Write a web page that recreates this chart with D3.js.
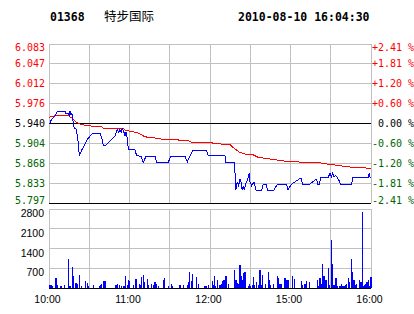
<!DOCTYPE html>
<html lang="zh">
<head>
<meta charset="utf-8">
<script src="https://cdn.jsdelivr.net/npm/d3@7/dist/d3.min.js"></script>
<style>
  body { margin: 0; background: #fff; }
  svg { display: block; }
</style>
</head>
<body>
<script>
// header
const stockCode = "01368";
const stockName = "特步国际";
const stamp = "2010-08-10 16:04:30";

// price axis
const prevClose = 5.94;
const priceSpan = 0.1431;
const priceTickLabels = ["6.083", "6.047", "6.012", "5.976", "5.940", "5.904", "5.868", "5.833", "5.797"];
const pctTickLabels = ["+2.41 %", "+1.81 %", "+1.20 %", "+0.60 %", " 0.00 %", "-0.60 %", "-1.20 %", "-1.81 %", "-2.41 %"];
const volTicks = [2800, 2100, 1400, 700];

// time axis, minutes from the open (10:00-12:30, 14:30-16:00)
const timeLabels = ["10:00", "11:00", "12:00", "15:00", "16:00"];
const timeLabelMinutes = [0, 60, 120, 180, 240];

// [minute, price]
const pricePoints = [[0,5.940],[0.7,5.941],[2,5.948],[4.5,5.953],[6.2,5.962],[11.9,5.962],[12.7,5.958],[14.4,5.958],[15.1,5.954],[15.6,5.962],[16.4,5.955],[17.1,5.958],[17.6,5.951],[18.1,5.939],[18.9,5.931],[20.1,5.930],[21.1,5.918],[21.8,5.906],[22.6,5.882],[23.6,5.888],[24.8,5.894],[26.1,5.900],[27.3,5.906],[28.6,5.912],[30,5.915],[31.8,5.921],[33.5,5.922],[38,5.922],[39.3,5.915],[40.5,5.901],[42.2,5.901],[45.5,5.909],[49.2,5.918],[50.9,5.929],[51.9,5.924],[52.9,5.929],[53.7,5.924],[54.6,5.931],[55.9,5.924],[56.6,5.918],[57.4,5.925],[58.4,5.912],[59.1,5.894],[64.1,5.893],[65.3,5.882],[68.6,5.881],[70.3,5.870],[72.3,5.881],[79,5.881],[80.2,5.870],[88.9,5.870],[90.7,5.881],[101.3,5.881],[103.1,5.871],[103.8,5.876],[107.1,5.891],[117.5,5.891],[118.7,5.882],[131.1,5.882],[131.9,5.870],[137.9,5.870],[138.6,5.852],[139.3,5.820],[140.3,5.835],[141.3,5.828],[142.3,5.840],[143.1,5.835],[144,5.820],[144.8,5.828],[145.5,5.820],[146.6,5.831],[147.8,5.837],[149.3,5.851],[149.8,5.835],[151,5.828],[152.8,5.835],[154.3,5.820],[158.5,5.820],[159.7,5.831],[161.7,5.831],[163,5.820],[167.7,5.820],[170.2,5.831],[177.1,5.831],[178.1,5.821],[180.9,5.831],[183.3,5.835],[185.8,5.839],[187.8,5.842],[189,5.831],[194.5,5.831],[197,5.836],[199.5,5.840],[200.2,5.831],[201.4,5.831],[202.5,5.842],[208.1,5.842],[209.4,5.851],[210.4,5.844],[211.4,5.851],[212.4,5.844],[213.6,5.847],[215.6,5.840],[217.4,5.831],[225.6,5.831],[226.3,5.842],[237.9,5.842],[238.7,5.851],[239.4,5.842]];

// [minute, average price]
const avgPoints = [[0,5.951],[4.5,5.954],[14.4,5.954],[18.1,5.948],[20.6,5.942],[23.1,5.939],[28.1,5.936],[39.3,5.934],[40.5,5.931],[55.4,5.931],[56.6,5.928],[60.4,5.926],[65.4,5.924],[67.8,5.921],[71.5,5.916],[79,5.914],[84,5.912],[92.6,5.911],[103.8,5.909],[106.3,5.906],[121.2,5.906],[122.4,5.904],[134.9,5.902],[138.6,5.894],[142.3,5.888],[146,5.885],[151,5.885],[156,5.879],[164.7,5.876],[179.6,5.871],[200.7,5.870],[204.4,5.868],[216.8,5.864],[226.8,5.861],[240,5.8595]];

// [minute, volume]
const volPoints = [[0.7,118],[1.5,118],[2.2,83],[5.2,354],[6.2,118],[8.9,83],[11.2,118],[14.4,1027],[15.6,83],[17.4,744],[18.1,437],[19.4,153],[20.1,177],[21.1,153],[22.6,472],[24.3,83],[27.1,236],[28.6,177],[29.6,83],[33,118],[37.5,83],[38.5,118],[39.3,153],[40.5,236],[41.5,236],[42.2,236],[49.9,118],[50.9,153],[52.4,118],[54.2,83],[55.9,83],[56.9,437],[58.4,118],[59.1,295],[59.8,236],[62.8,118],[64.8,319],[67.3,153],[68.3,118],[69.1,378],[70.3,472],[71.3,200],[73.3,331],[74,118],[76.5,153],[77.7,118],[79,200],[80.2,153],[81.7,83],[85.2,295],[86.2,366],[88.9,83],[91.4,153],[92.2,83],[97.6,118],[100.1,118],[103.1,118],[103.8,200],[104.5,555],[106.3,236],[107.1,508],[110.1,378],[111.3,153],[116.2,83],[117.5,83],[118.7,118],[121.7,260],[122.4,118],[123.2,413],[124.2,83],[125.7,272],[127.4,118],[128.2,153],[129.1,236],[129.9,272],[131.1,272],[131.9,413],[132.4,118],[133.6,153],[138.1,650],[139.3,272],[140.3,177],[141.1,153],[142.3,827],[143.1,437],[144,272],[145.3,531],[146,579],[148.5,83],[149.3,153],[150.3,83],[151.8,118],[152.3,390],[153,118],[154.3,200],[156,118],[157.2,650],[158.5,118],[159.2,472],[161,153],[163.4,555],[164.2,295],[165.2,118],[167.2,153],[170.2,437],[170.9,354],[172.1,153],[173.4,153],[175.9,354],[176.6,295],[177.6,295],[178.3,295],[181.6,437],[182.8,319],[188.3,236],[189.1,118],[190.8,153],[192,236],[194,200],[200,272],[200.7,83],[201.9,354],[203.2,153],[203.7,862],[204.9,437],[206.4,272],[208.1,709],[208.9,118],[210.6,1712],[211.4,862],[212.4,118],[213.9,354],[215.1,83],[216.8,83],[218.1,153],[218.8,83],[219.8,83],[221.1,118],[221.8,153],[223,354],[223.8,200],[225.6,1027],[226.3,555],[227.3,272],[228.6,118],[229.3,153],[231.3,272],[232.4,200],[233.6,2680],[234.4,83],[235.4,118],[236.2,153],[236.9,200],[238.1,272],[238.9,83],[239.9,390]];

const w = 414, h = 314;
const left = 49, right = 371;
const pTop = 44, pBottom = 203;
const vTop = 209, vBottom = 288;

const x = d3.scaleLinear().domain([0, 240]).range([left, right]);
const yP = d3.scaleLinear().domain([prevClose - priceSpan, prevClose + priceSpan]).range([pBottom, pTop]);
const yV = d3.scaleLinear().domain([0, 2800]).range([vBottom, vTop]);

const svg = d3.select("body").append("svg")
  .attr("width", w)
  .attr("height", h)
  .style("background", "#fff");

const grid = "#c0c0c0";
const mono = "'DejaVu Sans Mono', monospace";
const sans = "'Liberation Sans', Arial, sans-serif";

// header
svg.append("text").attr("x", 50).attr("y", 21)
  .style("font-family", mono).style("font-weight", "bold").style("font-size", "11.5px")
  .text(stockCode);
svg.append("text").attr("x", 104).attr("y", 21)
  .style("font-family", "'Noto Sans CJK SC', sans-serif").style("font-size", "12.5px")
  .text(stockName);
svg.append("text").attr("x", 238).attr("y", 21)
  .style("font-family", mono).style("font-weight", "bold").style("font-size", "11.5px")
  .text(stamp);

const gridG = svg.append("g").attr("shape-rendering", "crispEdges");
const gridMinutes = d3.range(0, 241, 30);

// price panel grid
const priceLevels = d3.range(9).map(i => prevClose + priceSpan - i * priceSpan / 4);
gridG.selectAll(".pgx").data(gridMinutes).enter().append("line")
  .attr("x1", d => x(d)).attr("x2", d => x(d))
  .attr("y1", pTop).attr("y2", pBottom)
  .attr("stroke", grid);
gridG.selectAll(".pgy").data(priceLevels).enter().append("line")
  .attr("x1", left).attr("x2", right)
  .attr("y1", d => yP(d)).attr("y2", d => yP(d))
  .attr("stroke", (d, i) => (i == 4 || i == 8) ? "#000" : grid);

// volume panel grid
gridG.selectAll(".vgx").data(gridMinutes).enter().append("line")
  .attr("x1", d => x(d)).attr("x2", d => x(d))
  .attr("y1", vTop).attr("y2", vBottom)
  .attr("stroke", grid);
gridG.selectAll(".vgy").data([2800, 2100, 1400, 700, 0]).enter().append("line")
  .attr("x1", left).attr("x2", right)
  .attr("y1", d => yV(d)).attr("y2", d => yV(d))
  .attr("stroke", d => d == 0 ? "#000" : grid);

// price labels, left and right
const labelColor = i => i < 4 ? "#ff0000" : (i == 4 ? "#000" : "#006600");
const nudge = i => i == 0 ? 3 : (i == 8 ? -3 : 0);
svg.selectAll(".pl").data(priceTickLabels).enter().append("text")
  .attr("x", 45).attr("y", (d, i) => yP(priceLevels[i]) + nudge(i))
  .attr("dy", "0.36em")
  .attr("text-anchor", "end")
  .style("font-family", mono).style("font-size", "10px")
  .attr("fill", (d, i) => labelColor(i))
  .text(d => d);
svg.selectAll(".pr").data(pctTickLabels).enter().append("text")
  .attr("x", 372).attr("y", (d, i) => yP(priceLevels[i]) + nudge(i))
  .attr("dy", "0.36em")
  .style("font-family", mono).style("font-size", "10px")
  .style("white-space", "pre")
  .attr("fill", (d, i) => labelColor(i))
  .text(d => d);

// volume labels
svg.selectAll(".vl").data(volTicks).enter().append("text")
  .attr("x", 44).attr("y", d => yV(d) + 8)
  .attr("text-anchor", "end")
  .style("font-family", sans).style("font-size", "10.5px")
  .text(d => d);

// time labels
svg.selectAll(".tl").data(timeLabels).enter().append("text")
  .attr("x", (d, i) => x(timeLabelMinutes[i]) - 1.5)
  .attr("y", 302.5)
  .attr("text-anchor", "middle")
  .style("font-family", sans).style("font-size", "10.5px")
  .text(d => d);

// lines, drawn aliased like the original
const line = d3.line().x(d => x(d[0])).y(d => yP(d[1]));
svg.append("path").datum(avgPoints)
  .attr("d", line).attr("fill", "none")
  .attr("shape-rendering", "crispEdges")
  .attr("stroke", "#ff0000").attr("stroke-width", 1);
svg.append("path").datum(pricePoints)
  .attr("d", line).attr("fill", "none")
  .attr("shape-rendering", "crispEdges")
  .attr("stroke", "#0000ff").attr("stroke-width", 1);

// volume bars
svg.append("g").attr("shape-rendering", "crispEdges")
  .selectAll("rect").data(volPoints).enter().append("rect")
  .attr("x", d => x(d[0]) - 0.5)
  .attr("width", 1.2)
  .attr("y", d => yV(d[1]))
  .attr("height", d => vBottom - yV(d[1]))
  .attr("fill", "#0000ff");
</script>
</body>
</html>
